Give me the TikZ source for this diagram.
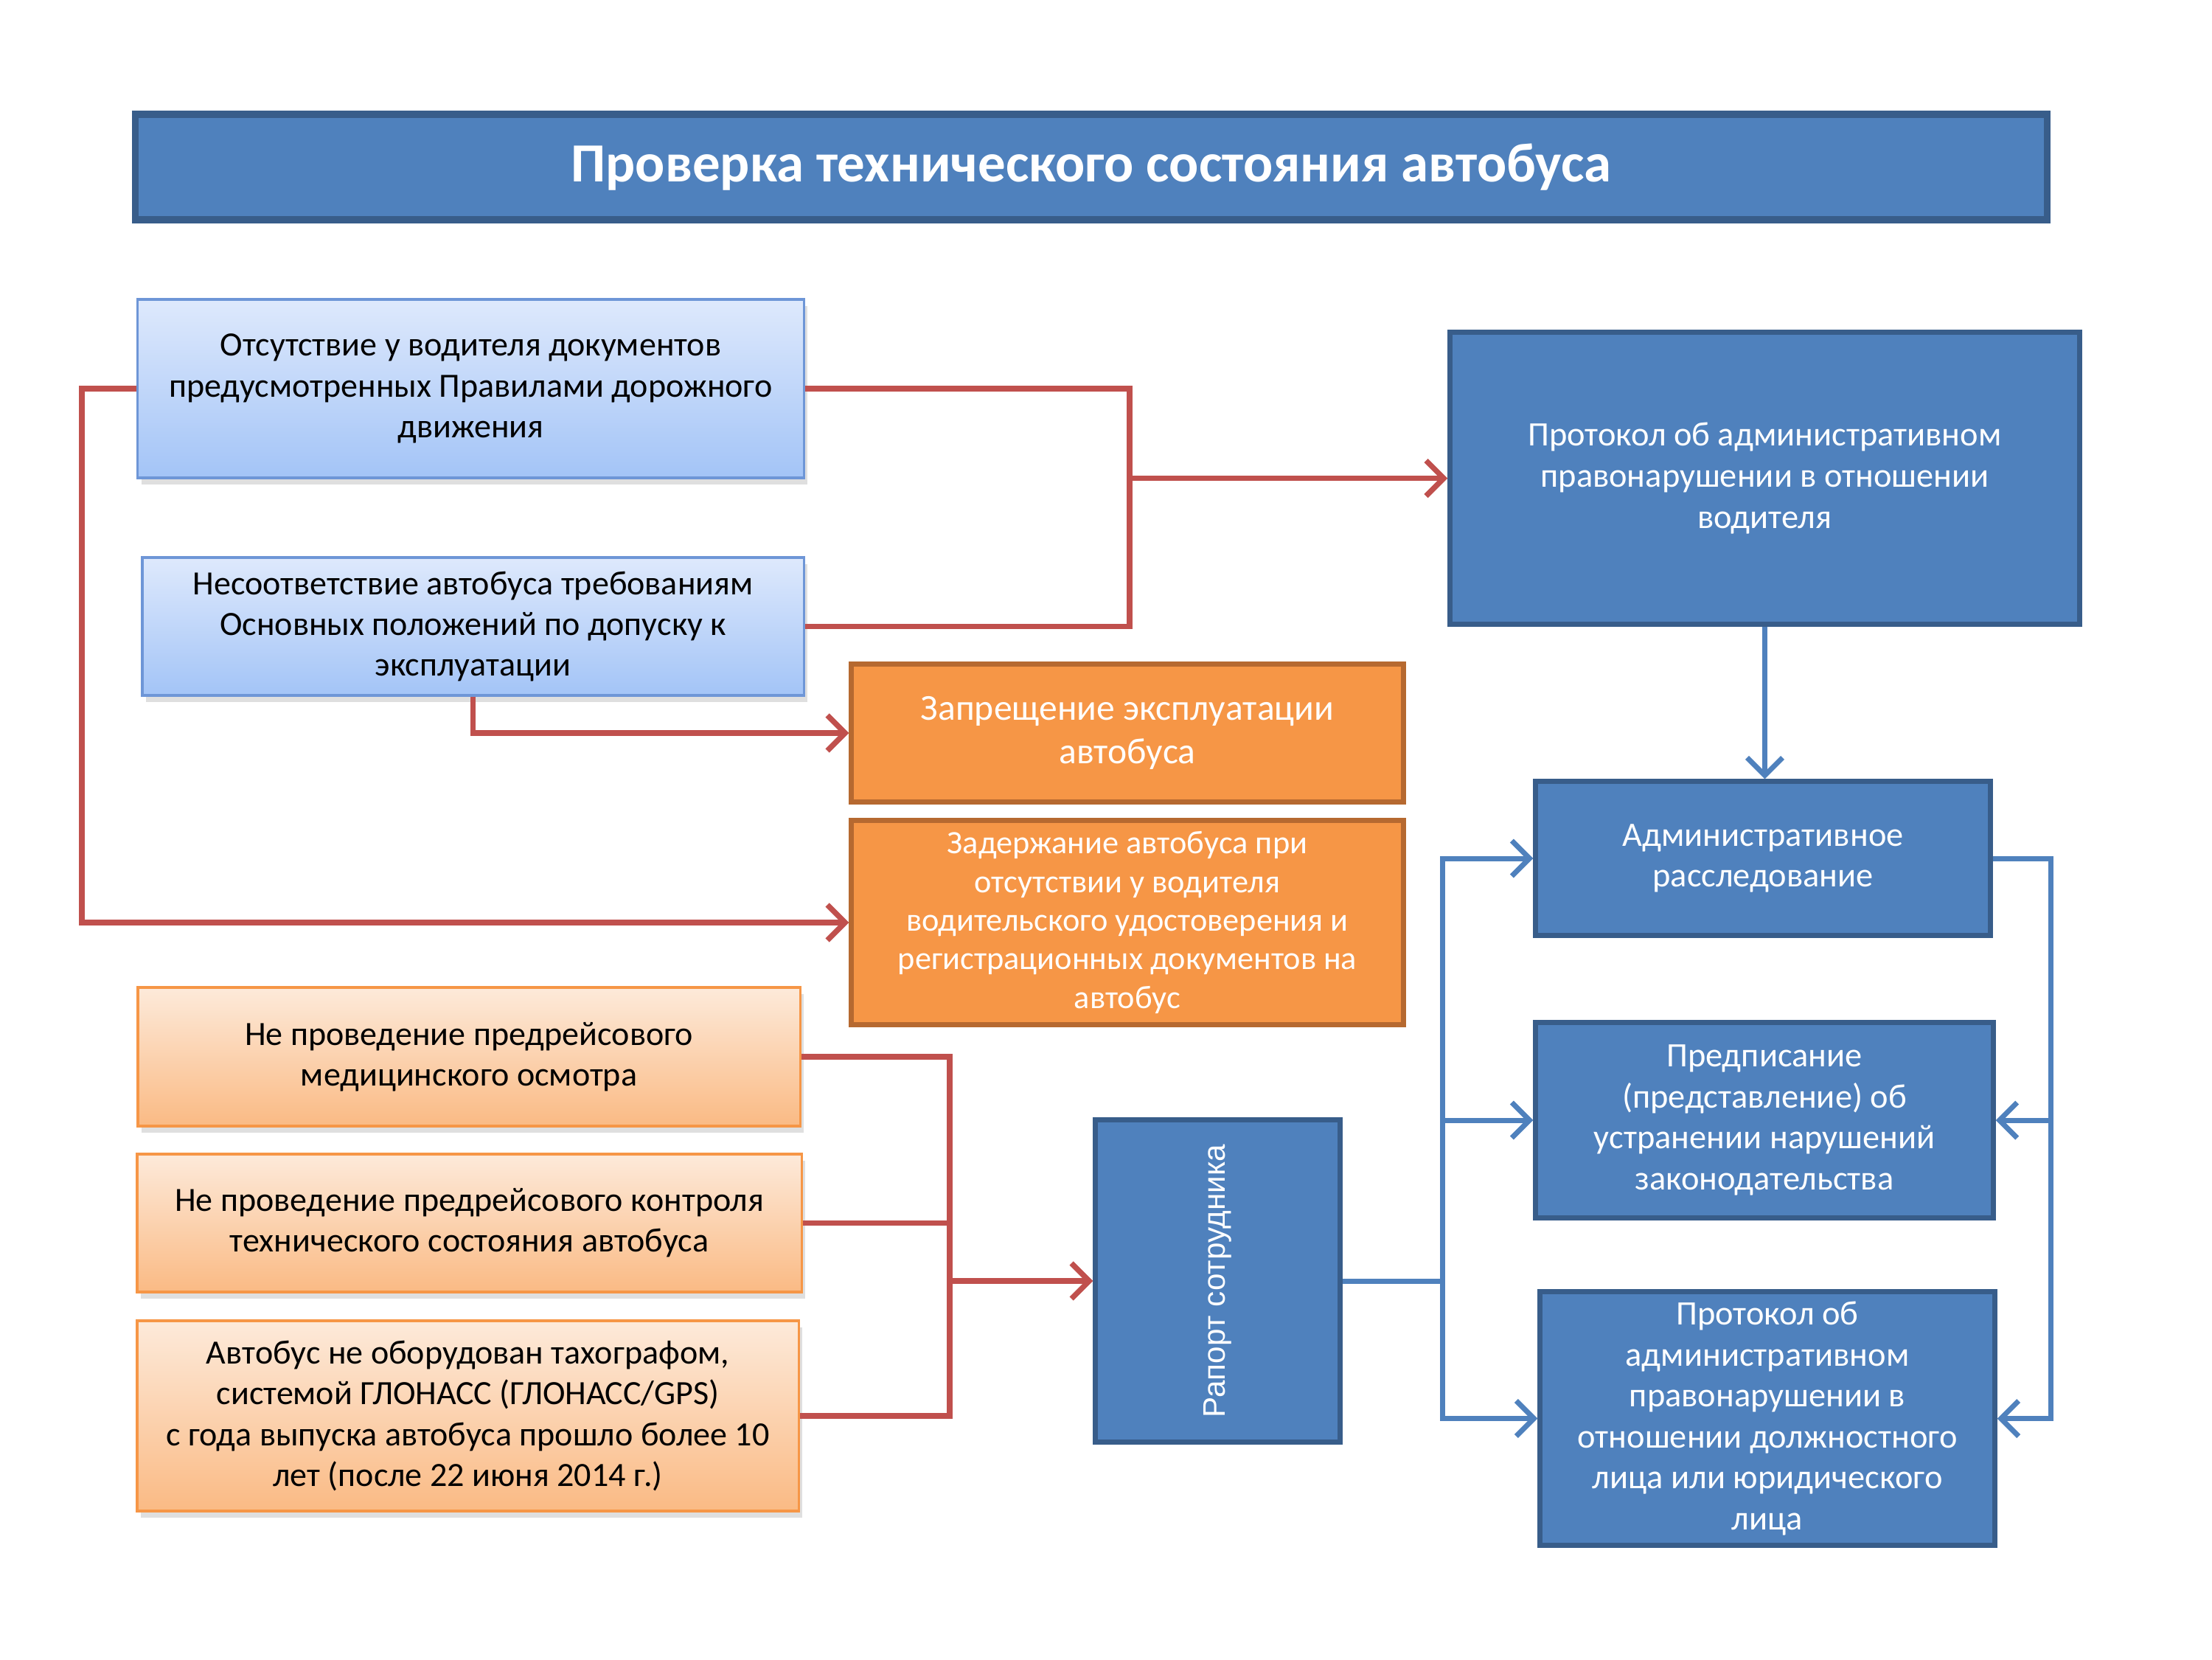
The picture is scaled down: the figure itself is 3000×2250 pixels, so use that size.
\documentclass[tikz,border=0pt]{standalone}
\usepackage{fontspec}
\setmainfont{Carlito}
\newfontfamily\rapfont{Liberation Sans}
\usetikzlibrary{arrows.meta}
\usetikzlibrary{shadows}

\definecolor{bxblue}{RGB}{79,129,189}
\definecolor{bxblueD}{RGB}{56,93,138}
\definecolor{bxorange}{RGB}{246,150,70}
\definecolor{bxorangeD}{RGB}{182,105,48}
\definecolor{lnred}{RGB}{192,80,77}
\definecolor{lbTop}{RGB}{222,233,252}
\definecolor{lbBot}{RGB}{163,196,247}
\definecolor{lbLine}{RGB}{110,150,215}
\definecolor{loTop}{RGB}{253,234,218}
\definecolor{loBot}{RGB}{250,186,132}

\tikzset{
  darkbox/.style={draw=bxblueD,fill=bxblue,line width=2pt,text=white,align=center,
    font=\fontsize{13.2}{15.8}\selectfont},
  orbox/.style={draw=bxorangeD,fill=bxorange,line width=2pt,text=white,align=center},
  lbbox/.style={draw=lbLine,top color=lbTop,bottom color=lbBot,line width=1pt,align=center,
    font=\fontsize{13.1}{15.7}\selectfont,
    drop shadow={opacity=0.25,shadow xshift=0.05cm,shadow yshift=-0.09cm}},
  lobox/.style={draw=bxorange,top color=loTop,bottom color=loBot,line width=1pt,align=center,
    font=\fontsize{13.1}{15.7}\selectfont,
    drop shadow={opacity=0.25,shadow xshift=0.05cm,shadow yshift=-0.09cm}},
  redline/.style={draw=lnred,line width=2.1pt},
  redarrow/.style={redline,-{Straight Barb[length=2.4mm,width=4.8mm]}},
  blueline/.style={draw=bxblue,line width=2pt},
  bluearrow/.style={blueline,-{Straight Barb[length=2.4mm,width=4.8mm]}}
}

\begin{document}
\begin{tikzpicture}[x=0.01cm,y=-0.01cm]
  \useasboundingbox (0,0) rectangle (3000,2250);
  %title
  \node[darkbox,line width=2.6pt,minimum width=25.92cm,minimum height=1.43cm,
    font=\fontsize{21.3}{25}\selectfont\bfseries] (title) at (1480,226.5)
    {Проверка технического состояния автобуса};

  %left
  \node[lbbox,minimum width=9.03cm,minimum height=2.42cm] (docs) at (638.5,527)
    {Отсутствие у водителя документов\\предусмотренных Правилами дорожного\\движения};
  \node[lbbox,minimum width=8.97cm,minimum height=1.87cm] (mismatch) at (641.5,849.5)
    {Несоответствие автобуса требованиям\\Основных положений по допуску к\\эксплуатации};
  \node[lobox,minimum width=8.98cm,minimum height=1.88cm] (med) at (636,1433)
    {Не проведение предрейсового\\медицинского осмотра};
  \node[lobox,minimum width=9.01cm,minimum height=1.87cm] (tech) at (636.5,1658.5)
    {Не проведение предрейсового контроля\\технического состояния автобуса};
  \node[lobox,minimum width=8.97cm,minimum height=2.58cm] (tacho) at (634.5,1920)
    {Автобус не оборудован тахографом,\\системой ГЛОНАСС (ГЛОНАСС/GPS)\\с года выпуска автобуса прошло более 10\\лет (после 22 июня 2014 г.)};

  %middle
  \node[orbox,minimum width=7.48cm,minimum height=1.86cm,
    font=\fontsize{14.1}{16.9}\selectfont] (ban) at (1529,994)
    {Запрещение эксплуатации\\автобуса};
  \node[orbox,minimum width=7.48cm,minimum height=2.76cm,
    font=\fontsize{12.6}{14.9}\selectfont] (hold) at (1529,1251)
    {Задержание автобуса при\\отсутствии у водителя\\водительского удостоверения и\\регистрационных документов на\\автобус};
  \node[darkbox,minimum width=3.31cm,minimum height=4.36cm] (report) at (1651.5,1737) {};
  \node[rotate=90,text=white,font=\rapfont\fontsize{12}{14}\selectfont] (reptext) at (report.center)
    {Рапорт сотрудника};

  %right
  \node[darkbox,minimum width=8.53cm,minimum height=3.95cm] (protdrv) at (2393.5,648.5)
    {Протокол об административном\\правонарушении в отношении\\водителя};
  \node[darkbox,minimum width=6.16cm,minimum height=2.08cm] (invest) at (2391,1164)
    {Административное\\расследование};
  \node[darkbox,minimum width=6.20cm,minimum height=2.64cm] (order) at (2393,1519)
    {Предписание\\(представление) об\\устранении нарушений\\законодательства};
  \node[darkbox,minimum width=6.16cm,minimum height=3.43cm] (protorg) at (2397,1923.5)
    {Протокол об\\административном\\правонарушении в\\отношении должностного\\лица или юридического\\лица};

  %red connectors
  \draw[redline] (docs.east) -- ++(440,0) coordinate (rsplit) |- (mismatch.east);
  \draw[redarrow] (rsplit |- protdrv.west) -- (protdrv.west);
  \draw[redarrow] (docs.west) -- ++(-74,0) |- (hold.west);
  \draw[redarrow] (mismatch.south) |- (ban.west);
  \draw[redline] (med.east) -- ++(201,0) coordinate (rbus) |- (tacho.east);
  \draw[redline] (tech.east) -- (tech.east -| rbus);
  \draw[redarrow] (rbus |- report.west) -- (report.west);

  %blue connectors
  \draw[bluearrow] (protdrv.south) -- (protdrv.south |- invest.north);
  \draw[blueline] (report.east) -- ++(136,0) coordinate (bbus);
  \draw[bluearrow] (bbus) |- (invest.west);
  \draw[bluearrow] (bbus) |- (protorg.west);
  \draw[bluearrow] (bbus |- order.west) -- (order.west);
  \draw[bluearrow] (invest.east) -- ++(79,0) coordinate (bright) |- (protorg.east);
  \draw[bluearrow] (bright |- order.east) -- (order.east);
\end{tikzpicture}
\end{document}
